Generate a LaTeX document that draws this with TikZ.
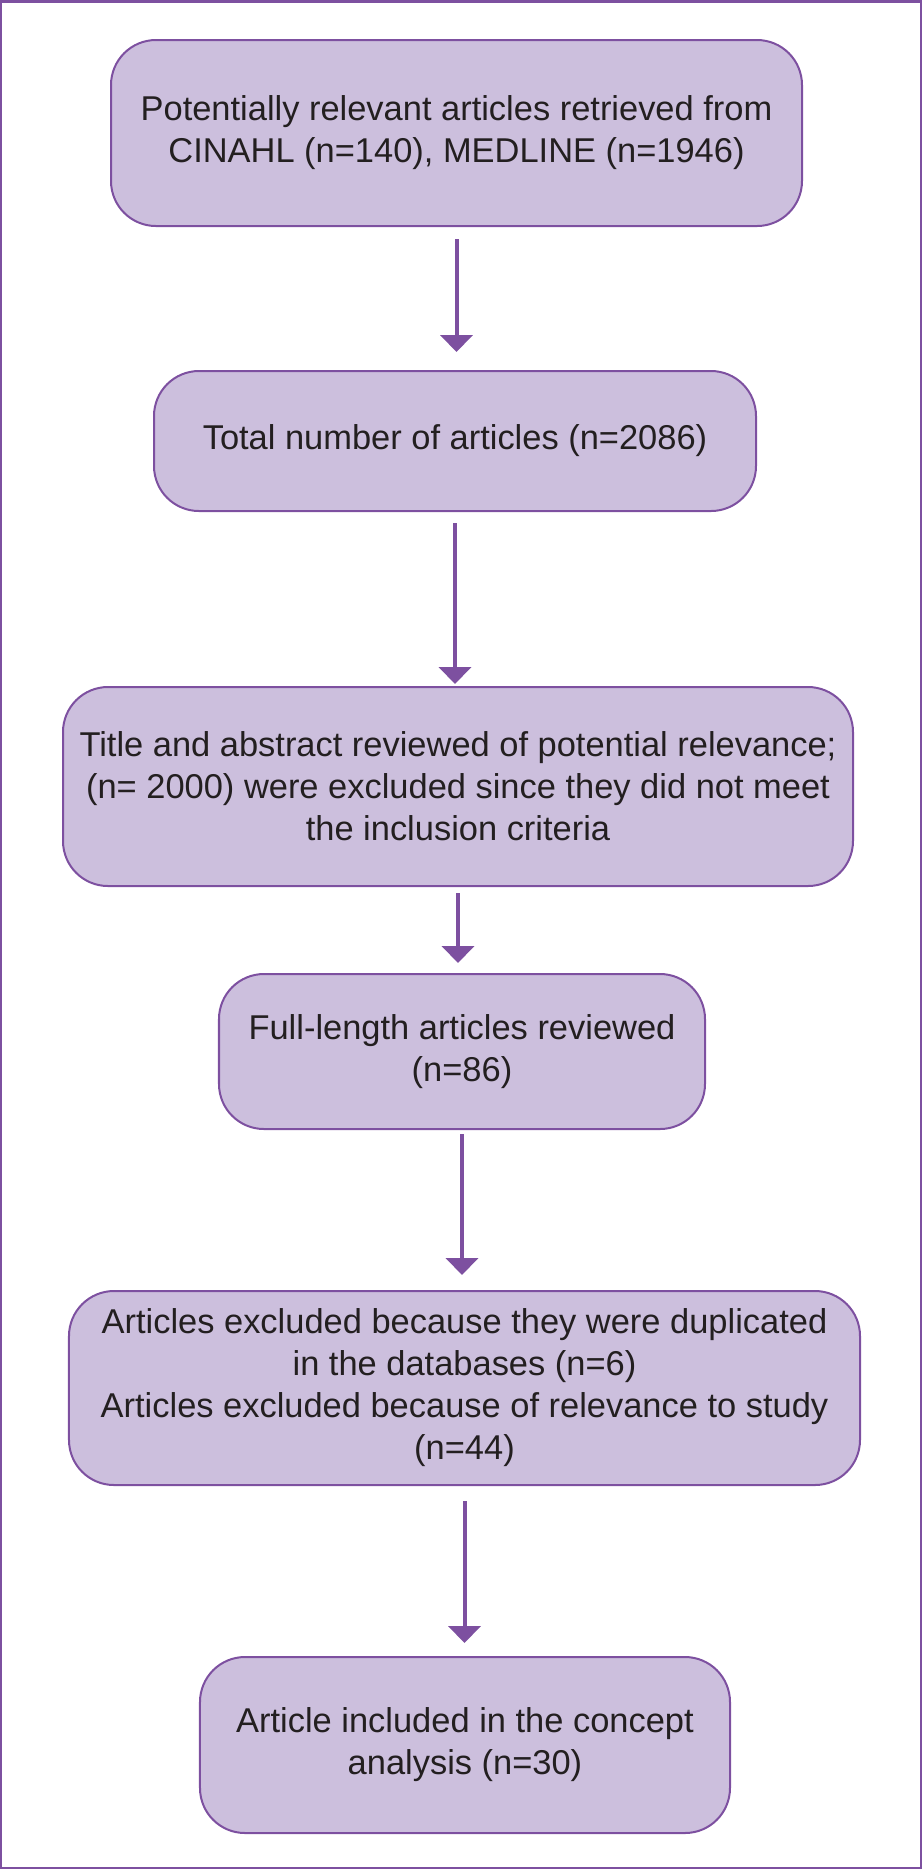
\documentclass[tikz,border=0pt]{standalone}
\usepackage{fontspec}
\setmainfont{Liberation Sans}
\usepackage{tikz}
\usetikzlibrary{arrows.meta,positioning}

\definecolor{boxfill}{HTML}{CCBFDD}
\definecolor{boxline}{HTML}{7D50A0}
\definecolor{textdark}{HTML}{231F20}

\begin{document}
\begin{tikzpicture}[-{Triangle[width=0.32cm,length=0.17cm]},
                    main node/.style={rectangle,rounded corners=0.45cm,draw=boxline,
                      fill=boxfill,line width=0.02cm,align=center,inner sep=0pt,
                      text=textdark,font=\fontsize{9.8}{11.95}\selectfont}]

  \useasboundingbox (0,0) rectangle (9.22,-18.69);
  \draw[-,boxline,line width=0.025cm] (0.0125,-0.0125) rectangle (9.2075,-18.6775);

  \node[main node,minimum width=6.91cm,minimum height=1.86cm] (1) at (4.565,-1.33)
    {Potentially relevant articles retrieved from\\CINAHL (n=140), MEDLINE (n=1946)};
  \node[main node,minimum width=6.02cm,minimum height=1.40cm] (2) [below=1.43cm of 1,xshift=-0.015cm]
    {Total number of articles (n=2086)};
  \node[main node,minimum width=7.90cm,minimum height=1.99cm] (3) [below=1.74cm of 2,xshift=0.03cm]
    {Title and abstract reviewed of potential relevance;\\(n= 2000) were excluded since they did not meet\\the inclusion criteria};
  \node[main node,minimum width=4.86cm,minimum height=1.55cm] (4) [below=0.86cm of 3,xshift=0.04cm]
    {Full-length articles reviewed\\(n=86)};
  \node[main node,minimum width=7.91cm,minimum height=1.94cm] (5) [below=1.60cm of 4,xshift=0.025cm]
    {Articles excluded because they were duplicated\\in the databases (n=6)\\Articles excluded because of relevance to study\\(n=44)};
  \node[main node,minimum width=5.30cm,minimum height=1.76cm] (6) [below=1.70cm of 5,xshift=0.005cm]
    {Article included in the concept\\analysis (n=30)};

  \path[color=boxline,line width=0.04cm]
    (1.south) edge[shorten <=0.12cm,shorten >=0.18cm] (1.south |- 2.north)
    (2.south) edge[shorten <=0.11cm,shorten >=0.02cm] (2.south |- 3.north)
    (3.south) edge[shorten <=0.06cm,shorten >=0.10cm] (3.south |- 4.north)
    (4.south) edge[shorten <=0.04cm,shorten >=0.15cm] (4.south |- 5.north)
    (5.south) edge[shorten <=0.15cm,shorten >=0.13cm] (5.south |- 6.north);
\end{tikzpicture}
\end{document}
